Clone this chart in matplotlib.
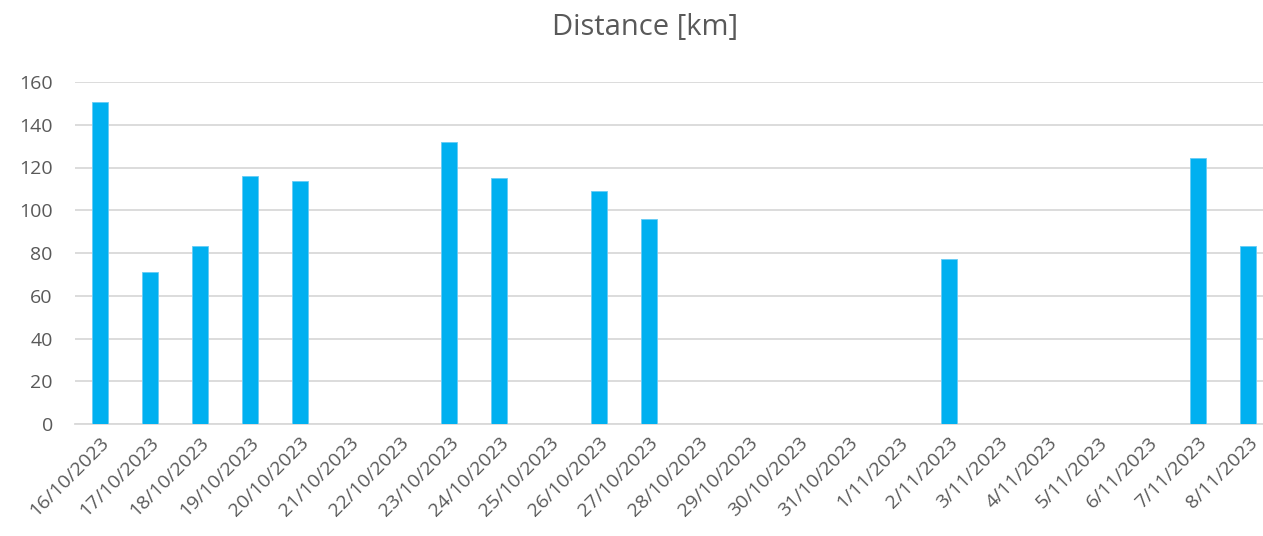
import matplotlib.pyplot as plt

plt.rcParams['font.family'] = ['Open Sans', 'DejaVu Sans']

dates = ['16/10/2023', '17/10/2023', '18/10/2023', '19/10/2023', '20/10/2023',
         '21/10/2023', '22/10/2023', '23/10/2023', '24/10/2023', '25/10/2023',
         '26/10/2023', '27/10/2023', '28/10/2023', '29/10/2023', '30/10/2023',
         '31/10/2023', '1/11/2023', '2/11/2023', '3/11/2023', '4/11/2023',
         '5/11/2023', '6/11/2023', '7/11/2023', '8/11/2023']
distance = [150.5, 71.3, 83.5, 115.8, 113.8, 0, 0, 132.1, 115.0, 0,
            108.8, 95.9, 0, 0, 0, 0, 0, 77.0, 0, 0, 0, 0, 124.4, 83.2]
yticks = [0, 20, 40, 60, 80, 100, 120, 140, 160]

text_col = '#595959'
grid_col = '#D9D9D9'

fig = plt.figure(figsize=(12.63, 5.36), dpi=100)
# axes runs a bit past the right edge, like the cropped original
ax = fig.add_axes([75 / 1263, 1 - 424 / 536, 1198 / 1263, 342 / 536])

x = range(len(dates))
ax.bar(x, distance, width=0.32, color='#00B0F0', edgecolor='#66CCF5', linewidth=0.6, zorder=3)

ax.set_xlim(-0.5, len(dates) - 0.5)
ax.set_ylim(0, 160)
ax.set_yticks(yticks)
ax.set_xticks(list(x))
ax.set_xticklabels(dates, rotation=45, ha='right', rotation_mode='anchor')

ax.yaxis.grid(True, color=grid_col, linewidth=1.3, zorder=0)
for s in ['top', 'right', 'left']:
    ax.spines[s].set_visible(False)
ax.spines['bottom'].set_color(grid_col)
ax.spines['bottom'].set_linewidth(1.3)
ax.tick_params(axis='both', length=0, labelsize=14, colors=text_col)
ax.tick_params(axis='y', pad=16)
ax.tick_params(axis='x', pad=7)

fig.text(645 / 1263, 1 - 28 / 536, 'Distance [km]', ha='center', va='center',
         fontsize=21, color=text_col)

fig.savefig('out.png', dpi=100)
